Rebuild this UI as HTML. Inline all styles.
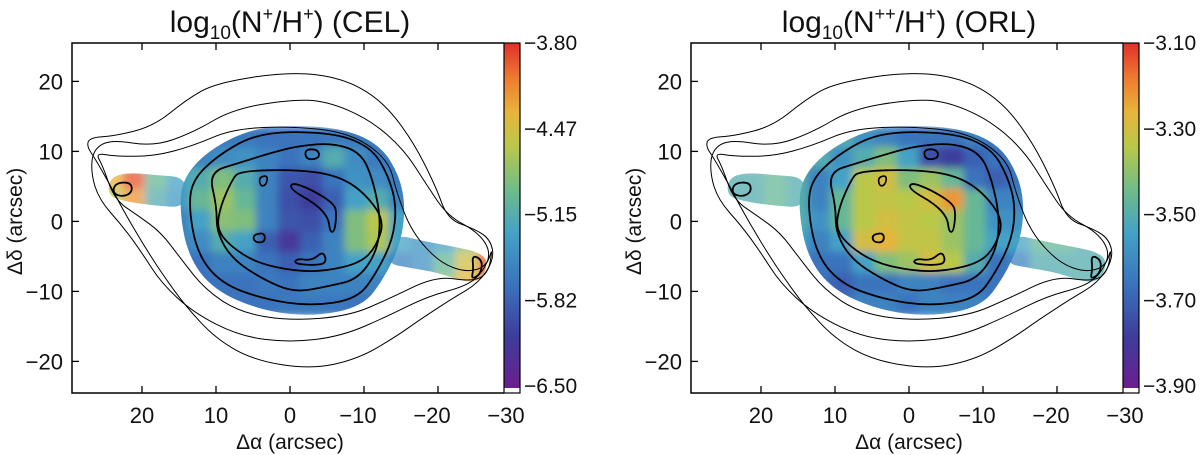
<!DOCTYPE html>
<html><head><meta charset="utf-8"><style>
html,body{margin:0;padding:0;background:#fff;}
svg{display:block;font-family:"Liberation Sans",Arial,sans-serif;}
</style></head><body>
<svg id="fig" width="1200" height="455" viewBox="0 0 1200 455">
<defs>
<filter id="blur" x="-20%" y="-20%" width="140%" height="140%"><feGaussianBlur stdDeviation="4"/></filter>
<linearGradient id="cmap" x1="0" y1="1" x2="0" y2="0">
<stop offset="0" stop-color="#6b1e8f"/><stop offset="0.15" stop-color="#3e3d9c"/><stop offset="0.3" stop-color="#3a73bd"/><stop offset="0.45" stop-color="#44a2c6"/><stop offset="0.57" stop-color="#6dbb8c"/><stop offset="0.7" stop-color="#b9c84a"/><stop offset="0.8" stop-color="#e8b43a"/><stop offset="0.9" stop-color="#ee7a30"/><stop offset="1" stop-color="#e0302a"/>
</linearGradient>
</defs>
</svg>
<script>
// heatmap grid (arcsec), normalized colour value 0..1 (null = no data)
const colX = [24,21,18,15,12,9,6,3,0,-3,-6,-9,-12,-15,-18,-21,-24,-27];
const rowY = [12,9,6,3,0,-3,-6,-9,-12];
const _ = null;
const celValues = [
[_,_,_,_,.32,.32,.32,.3,.3,.3,.32,.32,.32,.3,_,_,_,_],
[_,_,_,.4,.35,.38,.4,.35,.3,.35,.5,.38,.32,.32,_,_,_,_],
[.8,.95,.55,.45,.5,.6,.5,.35,.22,.2,.3,.4,.38,.32,.32,_,_,_],
[.7,.85,.5,.42,.55,.65,.55,.35,.2,.15,.25,.45,.5,.35,.3,_,_,_],
[_,.6,.45,.35,.45,.62,.6,.35,.22,.2,.3,.6,.7,.45,.32,.45,_,_],
[_,_,_,.35,.38,.5,.45,.25,.12,.25,.35,.6,.68,.45,.4,.45,.6,.8],
[_,_,_,.3,.3,.35,.35,.3,.25,.3,.35,.45,.45,.35,.4,.55,.75,.95],
[_,_,_,_,.3,.3,.3,.32,.3,.35,.35,.35,.35,.35,.35,.6,.8,.9],
[_,_,_,_,.3,.3,.3,.3,.32,.32,.32,.3,.3,.3,_,_,_,_]];
const orlValues = [
[_,_,_,_,.45,.5,.4,.35,.3,.3,.3,.35,.3,.3,_,_,_,_],
[_,_,_,.5,.5,.4,.5,.6,.45,.2,.15,.25,.3,.3,_,_,_,_],
[.5,.5,.55,.5,.35,.45,.7,.75,.6,.65,.55,.3,.25,.3,.35,_,_,_],
[.5,.5,.55,.5,.35,.55,.7,.72,.7,.75,.85,.55,.35,.35,.5,_,_,_],
[_,.5,.5,.5,.4,.55,.7,.75,.72,.7,.65,.55,.4,.4,.55,.5,_,_],
[_,_,_,.45,.35,.45,.75,.8,.72,.72,.65,.55,.45,.45,.55,.55,.5,.5],
[_,_,_,.35,.3,.3,.45,.6,.65,.75,.7,.5,.3,.35,.5,.5,.5,.5],
[_,_,_,_,.3,.25,.3,.3,.35,.35,.3,.3,.3,.35,.4,.5,.5,.5],
[_,_,_,_,.35,.3,.35,.35,.3,.35,.35,.35,.3,.35,_,_,_,_]];
const xTicks = [20,10,0,-10,-20,-30];
const yTicks = [20,10,0,-10,-20];
const celBarLabels = ["−3.80","−4.47","−5.15","−5.82","−6.50"];
const orlBarLabels = ["−3.10","−3.30","−3.50","−3.70","−3.90"];
// contours [x,y] in arcsec
const contour1 = [[0,21.4],[10,19.8],[14,17.4],[18.4,13.6],[23.7,12.2],[27,12],[27.5,10.8],[26.3,8.9],[24.2,5],[22.6,1.7],[20,-3],[17.4,-7.3],[14.2,-12],[10,-16.8],[4.7,-19.9],[-2.8,-21.1],[-9.1,-19.7],[-14.4,-16.4],[-17.6,-14],[-21.8,-11.1],[-25.5,-8.8],[-27.6,-5.4],[-27.1,-2.6],[-25,-1.1],[-21.3,0.3],[-19.7,5],[-16.5,11.7],[-12.3,17.4],[-7,20.5]];
const contour2 = [[0,17.4],[-4.9,17.2],[-10.7,14.6],[-15.4,10.3],[-18.6,5],[-21.3,0.8],[-25.5,-1.6],[-27.2,-4.5],[-26,-7.3],[-23.9,-9.2],[-18.6,-10.7],[-13.3,-13.5],[-7,-16.4],[0,-17.3],[6.8,-16.4],[13.1,-13],[17.4,-8.8],[20,-4.5],[22.6,-0.7],[25.8,3.1],[26.9,6.9],[26.6,10.3],[24.2,11.7],[18.4,10.7],[13.1,12.7],[7.8,16]];
const contour3 = [[0,13.6],[-8,12.7],[-13.3,8.9],[-14.4,4.1],[-16.5,-1.6],[-20.2,-5.9],[-23.9,-7.3],[-26.6,-6.4],[-27.4,-3.5],[-26.8,-7.5],[-24.5,-8.6],[-19.7,-7.8],[-13.3,-11.1],[-8,-13.5],[0,-14.2],[6.8,-13],[11.5,-9.7],[14.7,-5.4],[17.4,-1.6],[20.5,0.8],[23.7,3.1],[25.3,7.9],[26.3,9.8],[23.7,9.3],[18.4,9.3],[13.1,10.8],[7.8,13.2]];
const thick1 = [[0,12.9],[-7,12.4],[-11.2,10.3],[-13.3,6.5],[-14.4,2.2],[-13.9,-2.6],[-11.7,-7.3],[-9.1,-11.1],[-2.8,-12.1],[3.6,-11.1],[9.4,-8.8],[12.6,-4.5],[13.7,2.2],[13.1,6],[9.9,9.3],[5.2,12.2]];
const thick2 = [[-1.2,10.8],[-5.9,11.2],[-9.6,9.8],[-11.2,6],[-12.3,0.3],[-11.7,-4.5],[-9.1,-8.3],[-5.4,-9.2],[-0.6,-10.2],[3.6,-8.3],[7.8,-5.4],[9.9,-1.6],[9.9,2.2],[11,7],[6.8,8.4],[2.5,9.8]];
const thick3 = [[6.8,7.2],[-0.6,7.4],[-5.9,6.7],[-9.6,4.6],[-12.8,0.3],[-11.7,-3.5],[-9.6,-5.9],[-4.9,-7.1],[-0.6,-7.1],[4.6,-5.9],[8.1,-3.5],[9.9,-1.1],[9.4,2.2],[7.8,6]];
const blobCenter = [[-0.3,5.6],[-3,4.5],[-6,2.5],[-6.3,1],[-6,-1.5],[-5.4,-1.5],[-5.2,0.5],[-3.5,2.5],[0,4.6]];
const blobBottom = [[-4.5,-4.2],[-5,-6],[-3,-6.3],[-0.5,-6],[-1,-5.3],[-3,-5.6]];
const blobTop = [[-2,10.3],[-3.8,10.3],[-4,9],[-2.2,8.8]];
const blobA = [[3,6.6],[4.2,6.3],[4,5],[3.2,5.2]];
const blobB = [[3.4,-1.6],[5,-1.9],[4.8,-3],[3.4,-3]];
const tailL = [[21.5,5.6],[23.6,5.5],[24,4],[22.5,3.5],[21.3,4.2]];
const tailR = [[-24.6,-4.8],[-26,-5.5],[-25.8,-7.5],[-24.5,-8.3],[-24.8,-6.8]];
// data-coverage outline (where the map has pixels)
const coverShell = [[0,13.8],[-7.5,13.2],[-12.3,10.8],[-14.8,6.5],[-15.6,2],[-15,-3],[-12.8,-8],[-9.8,-12.2],[-3,-13.6],[4,-12.7],[10.3,-9.8],[13.8,-5],[15,2.2],[14.3,6.5],[10.8,10.3],[5.5,13.1]];
const coverTailL = [[14,6.3],[18,6.6],[22,7],[24.4,6.2],[24.6,3.6],[22,2.8],[18,2.2],[14,2]];
const coverTailR = [[-14,-1.8],[-18,-2.8],[-22,-3.6],[-25.3,-4.3],[-26.8,-5.6],[-26,-8.2],[-24,-8.8],[-20,-7.3],[-16,-6.6],[-13,-6]];

const NS = "http://www.w3.org/2000/svg";
const svg = document.getElementById("fig");
function el(tag, attrs, parent){const e=document.createElementNS(NS,tag);for(const k in attrs)e.setAttribute(k,attrs[k]);(parent||svg).appendChild(e);return e;}
const stops=[[0,[107,30,143]],[0.15,[62,61,156]],[0.3,[58,115,189]],[0.45,[68,162,198]],[0.57,[109,187,140]],[0.7,[185,200,74]],[0.8,[232,180,58]],[0.9,[238,122,48]],[1,[224,48,42]]];
function cmap(v){for(let i=1;i<stops.length;i++){if(v<=stops[i][0]){const a=stops[i-1],b=stops[i],t=(v-a[0])/(b[0]-a[0]);const c=a[1].map((q,j)=>Math.round(q+(b[1][j]-q)*t));return `rgb(${c})`;}}return "rgb(224,48,42)";}

function panel(off, values, title, barLabels, key){
  const L=72+off, R=520+off, T=43, B=393;
  const sx=x=>290+off-x*7.4, sy=y=>221.4-y*7.0;
  const g=el("g",{});  
  const smoothOf=pts=>{const P=pts.map(p=>[sx(p[0]),sy(p[1])]);const n=P.length;const mid=(a,b)=>[(a[0]+b[0])/2,(a[1]+b[1])/2];
    let m=mid(P[n-1],P[0]);let d=`M${m[0].toFixed(1)},${m[1].toFixed(1)}`;
    for(let i=0;i<n;i++){const c=P[i],nm=mid(P[i],P[(i+1)%n]);d+=`Q${c[0].toFixed(1)},${c[1].toFixed(1)} ${nm[0].toFixed(1)},${nm[1].toFixed(1)}`;}return d+"Z";};
  const cpS=el("clipPath",{id:"clipS"+key},g);
  el("path",{d:smoothOf(coverShell)},cpS);
  const cpT=el("clipPath",{id:"clipT"+key},g);
  [coverTailL,coverTailR].forEach(c=>el("path",{d:smoothOf(c)},cpT));
  const hm=el("g",{},g);
   
  const gs=el("g",{"clip-path":`url(#clipS${key})`},hm);
  const gt=el("g",{"clip-path":`url(#clipT${key})`,opacity:0.75},hm);
  [gs,gt].forEach(parent=>{
    const inner=el("g",{filter:"url(#blur)"},parent);
    rowY.forEach((y,r)=>colX.forEach((x,c)=>{const v=values[r][c]; if(v===null)return;
      const cell=el("rect",{x:sx(x+1.5)-1,y:sy(y+1.5)-1,width:3*7.4+2,height:3*7+2,fill:cmap(v)},inner);
      
      
    }));
  });
  [[contour1,1],[contour2,1],[contour3,1],[thick1,1.8],[thick2,1.8],[thick3,1.8],[blobCenter,1.8],[blobBottom,1.8],[blobTop,1.8],[blobA,1.6],[blobB,1.8],[tailL,1.8],[tailR,1.8]].forEach(([c,w])=>{
    const p=el("path",{d:smoothOf(c),fill:"none",stroke:"#000","stroke-width":w,"stroke-linejoin":"round"},g);
    
    
  });
  el("rect",{x:R-16,y:T,width:16,height:B-T,fill:"#fff"},g);
  const cb=el("rect",{x:R-16,y:T,width:16,height:B-T-5,fill:"url(#cmap)"},g);
  
  
  el("rect",{x:R-16,y:T,width:16,height:B-T,fill:"none",stroke:"#000","stroke-width":1.2},g);
  barLabels.forEach((s,i)=>{const t=el("text",{x:R+4,y:T+i*(B-T-7)/4+7,"font-size":21,fill:"#111"},g);t.textContent=s;
    
    });
  const fr=el("path",{d:`M${R-16},${T}H${L}V${B}H${R-16}`,fill:"none",stroke:"#000","stroke-width":1.5},g);
  
  
  xTicks.forEach(x=>{const X=sx(x);
    if(X<R-17){
      el("line",{x1:X,y1:B,x2:X,y2:B-7,stroke:"#000","stroke-width":1.3},g);
      el("line",{x1:X,y1:T,x2:X,y2:T+7,stroke:"#000","stroke-width":1.3},g);
    }
    const t=el("text",{x:X-(x<0?6:0),y:B+30,"font-size":22,"text-anchor":"middle",fill:"#111"},g);t.textContent=x<0?"−"+(-x):String(x);
    
    });
  yTicks.forEach(y=>{const Y=sy(y);
    el("line",{x1:L,y1:Y,x2:L+7,y2:Y,stroke:"#000","stroke-width":1.3},g);
    const t=el("text",{x:L-9,y:Y+8,"font-size":22,"text-anchor":"end",fill:"#111"},g);t.textContent=y<0?"−"+(-y):String(y);
    
    });
  const xt=el("text",{x:290+off,y:449,"font-size":21,"text-anchor":"middle",fill:"#111"},g);xt.textContent="Δα (arcsec)";
  
  
  const yt=el("text",{x:0,y:0,"font-size":21,"text-anchor":"middle",fill:"#111",transform:`translate(${L-50},${sy(0)}) rotate(-90)`},g);yt.textContent="Δδ (arcsec)";
  
  
  const tt=el("text",{x:290+off,y:32,"font-size":30,"text-anchor":"middle",fill:"#111"},g);
  tt.innerHTML=title;
  
  
}
panel(0, celValues, 'log<tspan font-size="19" dy="7">10</tspan><tspan dy="-7">(N</tspan><tspan font-size="18" dy="-12">+</tspan><tspan dy="12">/H</tspan><tspan font-size="18" dy="-12">+</tspan><tspan dy="12">) (CEL)</tspan>', celBarLabels, "cel");
panel(619, orlValues, 'log<tspan font-size="19" dy="7">10</tspan><tspan dy="-7">(N</tspan><tspan font-size="18" dy="-12">++</tspan><tspan dy="12">/H</tspan><tspan font-size="18" dy="-12">+</tspan><tspan dy="12">) (ORL)</tspan>', orlBarLabels, "orl");
</script>
</body></html>
